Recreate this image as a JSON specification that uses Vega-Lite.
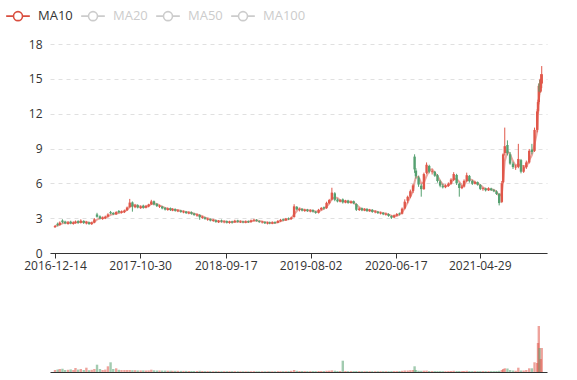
{
  "$schema": "https://vega.github.io/schema/vega-lite/v6.json",
  "padding": {"left": 5, "top": 3, "right": 5, "bottom": 5},
  "spacing": 57,
  "bounds": "flush",
  "config": {
    "font": "Open Sans",
    "view": {"stroke": null},
    "axis": {"labelFont": "Open Sans", "labelFontSize": 12, "labelColor": "#333"}
  },
  "data": {"values": [
    {"d":"2016-12-14","o":2.22,"h":2.40,"l":2.16,"c":2.32,"v":2.0},
    {"d":"2016-12-24","o":2.52,"h":2.62,"l":2.30,"c":2.40,"v":2.5},
    {"d":"2017-01-01","o":2.42,"h":2.72,"l":2.36,"c":2.62,"v":3.0},
    {"d":"2017-01-11","o":2.80,"h":2.90,"l":2.56,"c":2.66,"v":3.3},
    {"d":"2017-01-21","o":2.70,"h":2.78,"l":2.48,"c":2.56,"v":2.0},
    {"d":"2017-02-01","o":2.50,"h":2.74,"l":2.44,"c":2.64,"v":2.2},
    {"d":"2017-02-11","o":2.70,"h":2.78,"l":2.48,"c":2.56,"v":2.6},
    {"d":"2017-02-21","o":2.50,"h":2.72,"l":2.44,"c":2.62,"v":2.0},
    {"d":"2017-03-01","o":2.58,"h":2.80,"l":2.52,"c":2.70,"v":4.0},
    {"d":"2017-03-11","o":2.74,"h":2.82,"l":2.52,"c":2.60,"v":2.4},
    {"d":"2017-03-21","o":2.60,"h":2.90,"l":2.54,"c":2.78,"v":3.0},
    {"d":"2017-04-01","o":2.76,"h":2.82,"l":2.50,"c":2.60,"v":2.0},
    {"d":"2017-04-11","o":2.54,"h":2.74,"l":2.46,"c":2.66,"v":4.3},
    {"d":"2017-04-21","o":2.64,"h":2.70,"l":2.42,"c":2.50,"v":1.8},
    {"d":"2017-05-01","o":2.48,"h":2.70,"l":2.42,"c":2.62,"v":2.2},
    {"d":"2017-05-11","o":2.62,"h":3.00,"l":2.56,"c":2.90,"v":3.0},
    {"d":"2017-05-21","o":3.32,"h":3.46,"l":3.04,"c":3.12,"v":7.3},
    {"d":"2017-06-01","o":3.16,"h":3.24,"l":2.90,"c":2.98,"v":3.0},
    {"d":"2017-06-11","o":2.92,"h":3.14,"l":2.86,"c":3.04,"v":2.0},
    {"d":"2017-06-21","o":2.98,"h":3.22,"l":2.92,"c":3.12,"v":2.4},
    {"d":"2017-07-01","o":3.14,"h":3.42,"l":3.06,"c":3.32,"v":5.7},
    {"d":"2017-07-11","o":3.52,"h":3.62,"l":3.34,"c":3.42,"v":9.7},
    {"d":"2017-07-21","o":3.44,"h":3.52,"l":3.26,"c":3.34,"v":3.0},
    {"d":"2017-08-01","o":3.32,"h":3.60,"l":3.28,"c":3.52,"v":3.7},
    {"d":"2017-08-11","o":3.62,"h":3.70,"l":3.42,"c":3.50,"v":2.2},
    {"d":"2017-08-21","o":3.46,"h":3.66,"l":3.40,"c":3.58,"v":2.0},
    {"d":"2017-09-01","o":3.52,"h":3.74,"l":3.44,"c":3.66,"v":2.0},
    {"d":"2017-09-11","o":3.68,"h":4.00,"l":3.62,"c":3.92,"v":2.0},
    {"d":"2017-09-21","o":3.96,"h":4.66,"l":3.90,"c":4.34,"v":2.0},
    {"d":"2017-10-01","o":4.36,"h":4.44,"l":3.56,"c":4.00,"v":1.8},
    {"d":"2017-10-11","o":3.94,"h":4.18,"l":3.86,"c":4.10,"v":1.8},
    {"d":"2017-10-21","o":4.12,"h":4.20,"l":3.84,"c":3.92,"v":1.6},
    {"d":"2017-11-01","o":3.86,"h":4.10,"l":3.80,"c":4.00,"v":1.6},
    {"d":"2017-11-11","o":4.08,"h":4.16,"l":3.82,"c":3.90,"v":1.6},
    {"d":"2017-11-21","o":3.90,"h":4.14,"l":3.84,"c":4.06,"v":1.5},
    {"d":"2017-12-01","o":4.02,"h":4.24,"l":3.94,"c":4.18,"v":1.6},
    {"d":"2017-12-11","o":4.20,"h":4.58,"l":4.14,"c":4.44,"v":2.3},
    {"d":"2017-12-21","o":4.46,"h":4.52,"l":4.10,"c":4.18,"v":1.7},
    {"d":"2018-01-01","o":4.22,"h":4.30,"l":3.96,"c":4.04,"v":1.5},
    {"d":"2018-01-11","o":3.98,"h":4.16,"l":3.88,"c":4.08,"v":1.5},
    {"d":"2018-01-21","o":4.00,"h":4.06,"l":3.76,"c":3.84,"v":1.4},
    {"d":"2018-02-01","o":3.88,"h":3.96,"l":3.66,"c":3.74,"v":1.4},
    {"d":"2018-02-11","o":3.70,"h":3.92,"l":3.64,"c":3.84,"v":1.3},
    {"d":"2018-02-21","o":3.86,"h":3.92,"l":3.62,"c":3.70,"v":1.3},
    {"d":"2018-03-01","o":3.66,"h":3.86,"l":3.60,"c":3.78,"v":1.2},
    {"d":"2018-03-11","o":3.78,"h":3.84,"l":3.56,"c":3.64,"v":1.2},
    {"d":"2018-03-21","o":3.58,"h":3.76,"l":3.52,"c":3.68,"v":1.2},
    {"d":"2018-04-01","o":3.66,"h":3.72,"l":3.46,"c":3.54,"v":1.1},
    {"d":"2018-04-11","o":3.50,"h":3.66,"l":3.42,"c":3.58,"v":1.1},
    {"d":"2018-04-21","o":3.56,"h":3.62,"l":3.36,"c":3.44,"v":1.1},
    {"d":"2018-05-01","o":3.40,"h":3.58,"l":3.34,"c":3.50,"v":1.0},
    {"d":"2018-05-11","o":3.52,"h":3.58,"l":3.30,"c":3.38,"v":1.0},
    {"d":"2018-05-21","o":3.40,"h":3.46,"l":3.20,"c":3.28,"v":1.0},
    {"d":"2018-06-01","o":3.22,"h":3.40,"l":3.12,"c":3.32,"v":1.0},
    {"d":"2018-06-11","o":3.28,"h":3.34,"l":2.86,"c":3.08,"v":1.2},
    {"d":"2018-06-21","o":3.02,"h":3.20,"l":2.94,"c":3.12,"v":1.0},
    {"d":"2018-07-01","o":3.06,"h":3.12,"l":2.86,"c":2.94,"v":0.9},
    {"d":"2018-07-11","o":2.86,"h":3.02,"l":2.78,"c":2.94,"v":0.9},
    {"d":"2018-07-21","o":2.92,"h":2.98,"l":2.72,"c":2.80,"v":0.9},
    {"d":"2018-08-01","o":2.76,"h":2.92,"l":2.68,"c":2.84,"v":0.8},
    {"d":"2018-08-11","o":2.82,"h":2.88,"l":2.60,"c":2.68,"v":0.8},
    {"d":"2018-08-21","o":2.64,"h":2.84,"l":2.58,"c":2.76,"v":0.8},
    {"d":"2018-09-01","o":2.80,"h":2.88,"l":2.62,"c":2.70,"v":0.8},
    {"d":"2018-09-11","o":2.66,"h":2.80,"l":2.56,"c":2.72,"v":0.8},
    {"d":"2018-09-21","o":2.74,"h":2.80,"l":2.54,"c":2.62,"v":0.8},
    {"d":"2018-10-01","o":2.60,"h":2.78,"l":2.52,"c":2.70,"v":0.8},
    {"d":"2018-10-11","o":2.72,"h":2.78,"l":2.54,"c":2.62,"v":0.8},
    {"d":"2018-10-21","o":2.64,"h":2.86,"l":2.60,"c":2.78,"v":0.8},
    {"d":"2018-11-01","o":2.80,"h":2.86,"l":2.62,"c":2.68,"v":0.8},
    {"d":"2018-11-11","o":2.64,"h":2.80,"l":2.58,"c":2.72,"v":0.7},
    {"d":"2018-11-21","o":2.72,"h":2.78,"l":2.56,"c":2.64,"v":0.7},
    {"d":"2018-12-01","o":2.62,"h":2.80,"l":2.56,"c":2.72,"v":0.7},
    {"d":"2018-12-11","o":2.74,"h":2.80,"l":2.58,"c":2.66,"v":0.7},
    {"d":"2018-12-21","o":2.66,"h":2.88,"l":2.62,"c":2.80,"v":0.7},
    {"d":"2019-01-01","o":2.78,"h":2.94,"l":2.72,"c":2.86,"v":0.8},
    {"d":"2019-01-11","o":2.86,"h":2.92,"l":2.70,"c":2.76,"v":0.7},
    {"d":"2019-01-21","o":2.74,"h":2.80,"l":2.60,"c":2.66,"v":0.7},
    {"d":"2019-02-01","o":2.64,"h":2.76,"l":2.54,"c":2.70,"v":0.7},
    {"d":"2019-02-11","o":2.68,"h":2.72,"l":2.50,"c":2.56,"v":0.7},
    {"d":"2019-02-21","o":2.54,"h":2.70,"l":2.46,"c":2.62,"v":0.7},
    {"d":"2019-03-01","o":2.64,"h":2.70,"l":2.48,"c":2.56,"v":0.7},
    {"d":"2019-03-11","o":2.54,"h":2.72,"l":2.48,"c":2.64,"v":0.7},
    {"d":"2019-03-21","o":2.66,"h":2.72,"l":2.50,"c":2.58,"v":0.7},
    {"d":"2019-04-01","o":2.60,"h":2.84,"l":2.56,"c":2.76,"v":0.8},
    {"d":"2019-04-11","o":2.74,"h":2.94,"l":2.68,"c":2.86,"v":0.8},
    {"d":"2019-04-21","o":2.90,"h":2.96,"l":2.74,"c":2.82,"v":0.8},
    {"d":"2019-05-01","o":2.80,"h":3.02,"l":2.76,"c":2.96,"v":0.8},
    {"d":"2019-05-11","o":2.98,"h":3.06,"l":2.84,"c":2.92,"v":0.9},
    {"d":"2019-05-21","o":2.92,"h":3.12,"l":2.86,"c":3.04,"v":1.2},
    {"d":"2019-06-01","o":3.10,"h":4.20,"l":3.04,"c":4.02,"v":2.0},
    {"d":"2019-06-11","o":3.98,"h":4.04,"l":3.68,"c":3.76,"v":1.2},
    {"d":"2019-06-21","o":3.70,"h":3.86,"l":3.58,"c":3.78,"v":1.0},
    {"d":"2019-07-01","o":3.80,"h":3.86,"l":3.58,"c":3.66,"v":1.0},
    {"d":"2019-07-11","o":3.62,"h":3.80,"l":3.54,"c":3.72,"v":0.9},
    {"d":"2019-07-21","o":3.74,"h":3.80,"l":3.54,"c":3.62,"v":0.9},
    {"d":"2019-08-01","o":3.58,"h":3.76,"l":3.50,"c":3.68,"v":0.9},
    {"d":"2019-08-11","o":3.70,"h":3.76,"l":3.48,"c":3.56,"v":0.9},
    {"d":"2019-08-21","o":3.56,"h":3.62,"l":3.38,"c":3.46,"v":0.9},
    {"d":"2019-09-01","o":3.46,"h":3.80,"l":3.40,"c":3.72,"v":1.0},
    {"d":"2019-09-11","o":3.74,"h":3.96,"l":3.66,"c":3.88,"v":1.0},
    {"d":"2019-09-21","o":3.94,"h":4.00,"l":3.74,"c":3.84,"v":1.0},
    {"d":"2019-10-01","o":3.86,"h":4.42,"l":3.80,"c":4.32,"v":1.2},
    {"d":"2019-10-11","o":4.30,"h":4.66,"l":4.22,"c":4.56,"v":1.3},
    {"d":"2019-10-21","o":4.60,"h":5.62,"l":4.52,"c":5.20,"v":1.6},
    {"d":"2019-11-01","o":5.14,"h":5.24,"l":4.46,"c":4.58,"v":1.3},
    {"d":"2019-11-11","o":4.60,"h":4.70,"l":4.36,"c":4.44,"v":1.0},
    {"d":"2019-11-21","o":4.42,"h":4.64,"l":4.36,"c":4.56,"v":1.0},
    {"d":"2019-12-01","o":4.62,"h":4.70,"l":4.26,"c":4.36,"v":11.3},
    {"d":"2019-12-11","o":4.34,"h":4.58,"l":4.28,"c":4.50,"v":1.0},
    {"d":"2019-12-21","o":4.52,"h":4.58,"l":4.24,"c":4.32,"v":0.9},
    {"d":"2020-01-01","o":4.30,"h":4.52,"l":4.24,"c":4.44,"v":0.9},
    {"d":"2020-01-11","o":4.46,"h":4.52,"l":4.20,"c":4.28,"v":0.9},
    {"d":"2020-01-21","o":4.22,"h":4.28,"l":3.62,"c":3.72,"v":1.0},
    {"d":"2020-02-01","o":3.70,"h":3.92,"l":3.62,"c":3.84,"v":0.9},
    {"d":"2020-02-11","o":3.86,"h":3.92,"l":3.60,"c":3.68,"v":0.8},
    {"d":"2020-02-21","o":3.66,"h":3.86,"l":3.60,"c":3.78,"v":0.8},
    {"d":"2020-03-01","o":3.80,"h":3.86,"l":3.54,"c":3.62,"v":0.8},
    {"d":"2020-03-11","o":3.60,"h":3.80,"l":3.54,"c":3.72,"v":0.8},
    {"d":"2020-03-21","o":3.72,"h":3.78,"l":3.46,"c":3.54,"v":0.8},
    {"d":"2020-04-01","o":3.50,"h":3.66,"l":3.42,"c":3.58,"v":0.8},
    {"d":"2020-04-11","o":3.56,"h":3.62,"l":3.36,"c":3.44,"v":0.8},
    {"d":"2020-04-21","o":3.40,"h":3.56,"l":3.32,"c":3.48,"v":0.8},
    {"d":"2020-05-01","o":3.46,"h":3.52,"l":3.26,"c":3.34,"v":0.8},
    {"d":"2020-05-11","o":3.30,"h":3.46,"l":3.22,"c":3.38,"v":0.8},
    {"d":"2020-05-21","o":3.36,"h":3.42,"l":3.12,"c":3.20,"v":0.8},
    {"d":"2020-06-01","o":3.18,"h":3.24,"l":2.94,"c":3.04,"v":0.9},
    {"d":"2020-06-11","o":3.06,"h":3.32,"l":3.00,"c":3.24,"v":0.9},
    {"d":"2020-06-21","o":3.22,"h":3.44,"l":3.16,"c":3.36,"v":0.9},
    {"d":"2020-07-01","o":3.40,"h":3.48,"l":3.24,"c":3.34,"v":1.0},
    {"d":"2020-07-11","o":3.38,"h":3.92,"l":3.32,"c":3.82,"v":1.2},
    {"d":"2020-07-21","o":3.84,"h":4.62,"l":3.76,"c":4.42,"v":1.5},
    {"d":"2020-08-01","o":4.50,"h":4.94,"l":4.28,"c":4.84,"v":1.5},
    {"d":"2020-08-11","o":4.86,"h":5.46,"l":4.72,"c":5.32,"v":1.8},
    {"d":"2020-08-21","o":5.34,"h":5.94,"l":5.16,"c":5.82,"v":2.0},
    {"d":"2020-08-27","o":8.30,"h":8.50,"l":6.90,"c":7.20,"v":5.7},
    {"d":"2020-09-01","o":7.10,"h":7.30,"l":6.40,"c":6.60,"v":2.0},
    {"d":"2020-09-11","o":6.50,"h":6.66,"l":5.70,"c":5.90,"v":1.3},
    {"d":"2020-09-21","o":5.80,"h":5.96,"l":4.85,"c":5.50,"v":1.2},
    {"d":"2020-10-01","o":5.50,"h":6.92,"l":5.44,"c":6.80,"v":1.3},
    {"d":"2020-10-11","o":6.90,"h":7.80,"l":6.80,"c":7.60,"v":1.4},
    {"d":"2020-10-21","o":7.50,"h":7.60,"l":6.86,"c":7.00,"v":1.0},
    {"d":"2020-11-01","o":6.96,"h":7.20,"l":6.76,"c":7.04,"v":0.9},
    {"d":"2020-11-11","o":7.00,"h":7.06,"l":6.56,"c":6.66,"v":0.9},
    {"d":"2020-11-21","o":6.70,"h":6.80,"l":6.06,"c":6.20,"v":0.9},
    {"d":"2020-12-01","o":6.16,"h":6.30,"l":5.66,"c":5.80,"v":0.9},
    {"d":"2020-12-11","o":5.76,"h":5.96,"l":5.56,"c":5.66,"v":0.8},
    {"d":"2020-12-21","o":5.66,"h":5.92,"l":5.58,"c":5.80,"v":0.8},
    {"d":"2021-01-01","o":5.78,"h":6.08,"l":5.70,"c":5.98,"v":0.9},
    {"d":"2021-01-11","o":5.96,"h":6.44,"l":5.88,"c":6.32,"v":1.0},
    {"d":"2021-01-21","o":6.30,"h":6.96,"l":6.20,"c":6.80,"v":1.2},
    {"d":"2021-02-01","o":6.72,"h":6.82,"l":5.86,"c":6.00,"v":1.0},
    {"d":"2021-02-11","o":5.96,"h":6.06,"l":4.85,"c":5.60,"v":1.0},
    {"d":"2021-02-21","o":5.58,"h":5.86,"l":5.50,"c":5.74,"v":0.9},
    {"d":"2021-03-01","o":5.72,"h":6.34,"l":5.64,"c":6.22,"v":1.0},
    {"d":"2021-03-11","o":6.20,"h":6.92,"l":6.12,"c":6.70,"v":1.2},
    {"d":"2021-03-21","o":6.64,"h":6.72,"l":6.06,"c":6.18,"v":1.0},
    {"d":"2021-04-01","o":6.20,"h":6.30,"l":5.86,"c":5.96,"v":0.9},
    {"d":"2021-04-11","o":5.96,"h":6.22,"l":5.90,"c":6.12,"v":0.9},
    {"d":"2021-04-21","o":6.10,"h":6.16,"l":5.80,"c":5.88,"v":0.9},
    {"d":"2021-05-01","o":5.86,"h":5.94,"l":5.42,"c":5.52,"v":0.9},
    {"d":"2021-05-11","o":5.50,"h":5.66,"l":5.36,"c":5.58,"v":0.9},
    {"d":"2021-05-21","o":5.56,"h":5.62,"l":5.30,"c":5.40,"v":0.9},
    {"d":"2021-06-01","o":5.40,"h":5.66,"l":5.34,"c":5.56,"v":0.9},
    {"d":"2021-06-11","o":5.56,"h":5.62,"l":5.34,"c":5.42,"v":0.9},
    {"d":"2021-06-21","o":5.42,"h":5.52,"l":5.24,"c":5.32,"v":0.9},
    {"d":"2021-07-01","o":5.30,"h":5.40,"l":5.00,"c":5.08,"v":1.0},
    {"d":"2021-07-11","o":5.10,"h":5.16,"l":4.10,"c":4.30,"v":1.2},
    {"d":"2021-07-21","o":4.40,"h":6.20,"l":4.30,"c":6.00,"v":2.0},
    {"d":"2021-07-26","o":6.10,"h":8.60,"l":6.00,"c":8.50,"v":3.0},
    {"d":"2021-08-01","o":8.60,"h":10.80,"l":8.40,"c":9.20,"v":3.7},
    {"d":"2021-08-11","o":9.30,"h":9.70,"l":8.40,"c":8.60,"v":3.5},
    {"d":"2021-08-21","o":8.50,"h":8.70,"l":7.60,"c":7.70,"v":2.0},
    {"d":"2021-09-01","o":7.70,"h":7.86,"l":7.24,"c":7.40,"v":1.5},
    {"d":"2021-09-11","o":7.36,"h":7.60,"l":7.16,"c":7.44,"v":1.3},
    {"d":"2021-09-21","o":7.40,"h":9.40,"l":7.30,"c":8.10,"v":4.3},
    {"d":"2021-10-01","o":8.00,"h":8.10,"l":6.86,"c":7.00,"v":1.5},
    {"d":"2021-10-11","o":7.00,"h":7.56,"l":6.90,"c":7.40,"v":1.5},
    {"d":"2021-10-21","o":7.40,"h":7.96,"l":7.24,"c":7.80,"v":2.0},
    {"d":"2021-11-01","o":7.80,"h":8.96,"l":7.70,"c":8.80,"v":3.7},
    {"d":"2021-11-11","o":8.90,"h":9.40,"l":8.50,"c":8.70,"v":3.7},
    {"d":"2021-11-21","o":8.80,"h":10.80,"l":8.70,"c":10.60,"v":9.7},
    {"d":"2021-12-01","o":10.60,"h":12.40,"l":10.40,"c":12.20,"v":9.0},
    {"d":"2021-12-04","o":12.20,"h":13.20,"l":12.00,"c":13.00,"v":29},
    {"d":"2021-12-07","o":13.00,"h":14.60,"l":12.80,"c":14.40,"v":46},
    {"d":"2021-12-10","o":14.60,"h":14.90,"l":13.60,"c":13.90,"v":24},
    {"d":"2021-12-14","o":13.90,"h":15.40,"l":13.80,"c":15.00,"v":13},
    {"d":"2021-12-18","o":14.60,"h":16.10,"l":14.20,"c":15.40,"v":24}
  ]},
  "vconcat": [
    {
      "width": 497,
      "height": 209,
      "encoding": {
        "x": {"field": "d", "type": "temporal", "title": null,
          "scale": {"type": "utc", "domain": [{"year": 2016, "month": 12, "date": 14, "utc": true}, {"year": 2021, "month": 12, "date": 19, "utc": true}]},
          "axis": {"values": [
            {"year": 2016, "month": 12, "date": 14, "utc": true},
            {"year": 2017, "month": 10, "date": 30, "utc": true},
            {"year": 2018, "month": 9, "date": 17, "utc": true},
            {"year": 2019, "month": 8, "date": 2, "utc": true},
            {"year": 2020, "month": 6, "date": 17, "utc": true},
            {"year": 2021, "month": 4, "date": 29, "utc": true}],
            "format": "%Y-%m-%d", "labelOverlap": false, "labelFlush": false, "grid": false,
            "domainColor": "#333", "tickColor": "#333", "tickSize": 5, "labelPadding": 2, "title": null}}
      },
      "layer": [
        {
          "transform": [
            {"window": [{"op": "mean", "field": "c", "as": "ma"}], "frame": [-2, 0], "sort": [{"field": "d"}]}
          ],
          "mark": {"type": "line", "opacity": 0.5, "strokeWidth": 2},
          "encoding": {
            "y": {"field": "ma", "type": "quantitative", "title": null,
              "scale": {"domain": [0, 18], "nice": false, "zero": true},
              "axis": {"values": [0, 3, 6, 9, 12, 15, 18], "labelOverlap": false, "domain": false, "ticks": false, "labelPadding": 8, "gridColor": "#e0e0e0", "gridDash": [4, 4], "title": null}},
            "color": {"datum": "MA10", "type": "nominal",
              "scale": {"domain": ["MA10", "MA20", "MA50", "MA100"], "range": ["#d94e3f", "#cccccc", "#cccccc", "#cccccc"]},
              "legend": {"title": null, "orient": "none", "legendX": -45, "legendY": -41, "direction": "horizontal",
                "symbolType": "M-1,0L-0.38,0M0.38,0L1,0M0.38,0A0.38,0.38,0,1,1,-0.38,0A0.38,0.38,0,1,1,0.38,0",
                "symbolSize": 560, "symbolStrokeWidth": 1.6, "symbolFillColor": "#ffffff", "symbolOpacity": 1,
                "labelFontSize": 13, "labelFont": "Open Sans", "labelOffset": 7, "columnPadding": 4,
                "encode": {"labels": {"update": {"fill": {"signal": "datum.label === 'MA10' ? '#333333' : '#cccccc'"}}}}}}
          }
        },
        {
          "mark": {"type": "rule", "strokeWidth": 1},
          "encoding": {
            "y": {"field": "l", "type": "quantitative", "title": null,
              "axis": {"values": [0, 3, 6, 9, 12, 15, 18], "labelOverlap": false, "domain": false, "ticks": false, "labelPadding": 8, "gridColor": "#e0e0e0", "gridDash": [4, 4], "title": null}},
            "y2": {"field": "h"},
            "color": {"condition": {"test": "datum.c >= datum.o", "value": "#e0574a"}, "value": "#55a070"}
          }
        },
        {
          "mark": {"type": "bar", "size": 2.4},
          "encoding": {
            "y": {"field": "o", "type": "quantitative", "title": null,
              "axis": {"values": [0, 3, 6, 9, 12, 15, 18], "labelOverlap": false, "domain": false, "ticks": false, "labelPadding": 8, "gridColor": "#e0e0e0", "gridDash": [4, 4], "title": null}},
            "y2": {"field": "c"},
            "color": {"condition": {"test": "datum.c >= datum.o", "value": "#e0574a"}, "value": "#55a070"}
          }
        }
      ]
    },
    {
      "width": 497,
      "height": 62,
      "mark": {"type": "bar", "size": 2.4, "opacity": 0.55},
      "encoding": {
        "x": {"field": "d", "type": "temporal", "title": null,
          "scale": {"type": "utc", "domain": [{"year": 2016, "month": 12, "date": 14, "utc": true}, {"year": 2021, "month": 12, "date": 19, "utc": true}]},
          "axis": {"labels": false, "ticks": false, "grid": false, "domainColor": "#333", "title": null}},
        "y": {"field": "v", "type": "quantitative", "title": null, "scale": {"domain": [0, 62], "nice": false}, "axis": null},
        "color": {"condition": {"test": "datum.c >= datum.o", "value": "#e0574a"}, "value": "#55a070"}
      }
    }
  ]
}
